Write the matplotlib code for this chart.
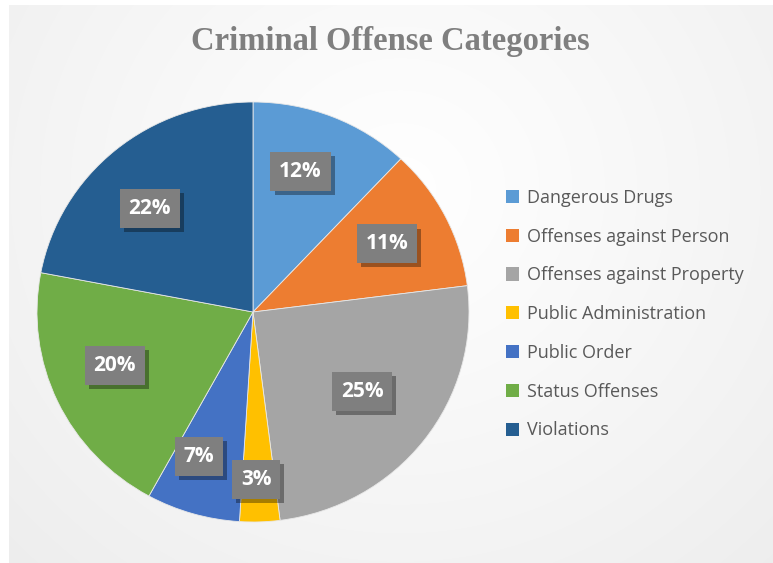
import numpy as np
import matplotlib.pyplot as plt
import matplotlib.patheffects as pe

categories = ["Dangerous Drugs", "Offenses against Person", "Offenses against Property",
              "Public Administration", "Public Order", "Status Offenses", "Violations"]
shares = [12, 11, 25, 3, 7, 20, 22]
colors = ["#5B9BD5", "#ED7D31", "#A5A5A5", "#FFC000", "#4472C4", "#70AD47", "#255E91"]

# label placement (Excel "best fit"): radial distance and angular nudge per slice
label_r = [0.704, 0.700, 0.631, 0.798, 0.732, 0.690, 0.686]
label_dang = [3.4, 0.7, 0.9, -0.8, -3.8, -3.5, 4.5]

W, H = 773, 563
fig = plt.figure(figsize=(W / 100, H / 100), dpi=100)
fig.patch.set_facecolor("white")

# radial gradient background panel
bg = fig.add_axes([9 / W, 0, 1 - 9 / W, 1 - 5 / H])
bg.set_axis_off()
yy, xx = np.mgrid[5:H, 9:W]
d = np.hypot(xx - 400, (yy - 190) * 1.05)
g = np.clip(1.0 - 0.00032 * d - 0.00000009 * d ** 2, 0, 1)
g = 0.66 + 0.34 * g
bg.imshow(np.dstack([g, g, g]), aspect="auto", extent=[0, 1, 0, 1], origin="upper")
bg.set_xlim(0, 1)
bg.set_ylim(0, 1)

fig.text(0.505, 0.927, "Criminal Offense Categories", ha="center", va="center",
         fontsize=23.5, fontweight="bold", color="#7F7F7F", family="Liberation Serif")

ax = fig.add_axes([37 / W, (563 - 312 - 210) / H, 432 / W, 420 / H])
ax.set_facecolor("none")
wedges, texts = ax.pie(
    shares, colors=colors, startangle=90, counterclock=False, radius=1,
    wedgeprops=dict(edgecolor="#e8e8e8", linewidth=0.6))
ax.set_xlim(-1, 1)
ax.set_ylim(-1, 1)
ax.set_aspect("auto")

for w, v, r, da in zip(wedges, shares, label_r, label_dang):
    ang = np.deg2rad((w.theta1 + w.theta2) / 2 + da)
    t = ax.text(r * np.cos(ang), r * np.sin(ang), f"{v}%", ha="center", va="center",
                color="white", fontsize=15, fontweight="bold", family="Open Sans")
    t.set_bbox(dict(boxstyle="square,pad=0.42", facecolor="#7F7F7F", edgecolor="none"))
    t.get_bbox_patch().set_path_effects(
        [pe.SimplePatchShadow(offset=(3, -3), shadow_rgbFace="black", alpha=0.35), pe.Normal()])

leg = fig.legend(wedges, categories, loc="center left", bbox_to_anchor=(0.633, 0.442),
                 frameon=False, handlelength=0.75, handleheight=0.75,
                 handletextpad=0.45, labelspacing=1.15,
                 prop=dict(family="Open Sans", size=13))
for t in leg.get_texts():
    t.set_color("#595959")
for h in leg.legend_handles:
    h.set_edgecolor("none")

fig.savefig("out.png", dpi=100)
